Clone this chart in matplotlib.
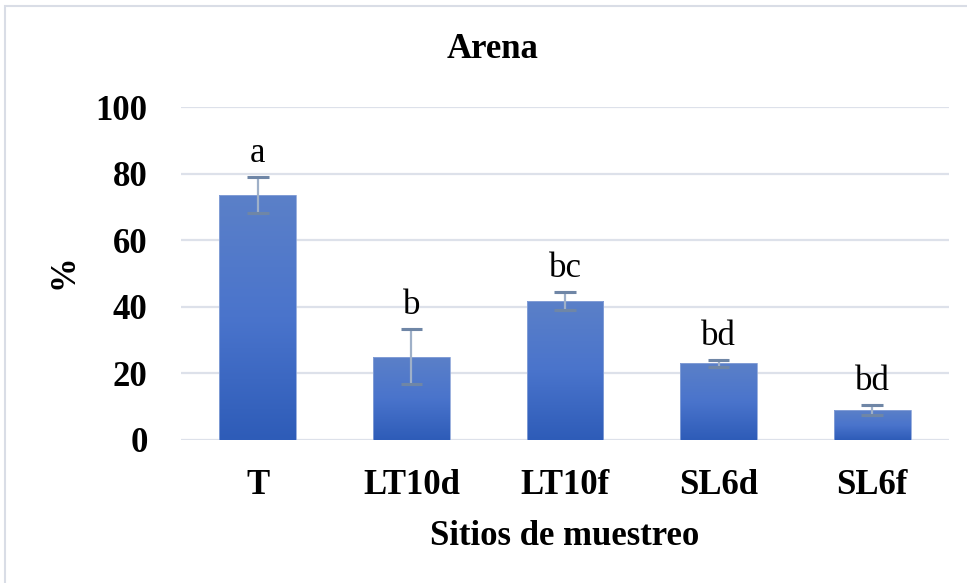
import numpy as np
import matplotlib
matplotlib.use("Agg")
import matplotlib.pyplot as plt
from matplotlib.patches import Rectangle

sites = ["T", "LT10d", "LT10f", "SL6d", "SL6f"]
sand_pct = [73.5, 25.0, 41.8, 23.0, 9.0]
sand_err = [5.4, 8.3, 2.7, 1.0, 1.5]
groups = ["a", "b", "bc", "bd", "bd"]
y_ticks = [0, 20, 40, 60, 80, 100]

plt.rcParams["font.family"] = ["Liberation Serif", "DejaVu Serif"]
FS = 25

W, H = 967, 583
fig = plt.figure(figsize=(W / 100, H / 100), dpi=100)
ax = fig.add_axes([181 / W, 1 - 440 / H, (949 - 181) / W, (440 - 107) / H])

# outer chart frame
fig.patches.append(Rectangle((5 / W, -0.1), 1.2, 1 - 6 / H + 0.1,
                             transform=fig.transFigure, fill=False,
                             edgecolor="#d9dde6", linewidth=1.5, zorder=0))

x = np.arange(len(sites))
bars = ax.bar(x, sand_pct, width=0.5, color="none", edgecolor="#8aa4d8",
              linewidth=0.6, zorder=3)

# vertical gradient fill for every bar
grad = np.linspace(0, 1, 256).reshape(-1, 1)
cmap = matplotlib.colors.LinearSegmentedColormap.from_list(
    "barfill", ["#2e5cb8", "#4a74cc", "#5b80c8"])
for b in bars:
    x0, y0 = b.get_x(), b.get_y()
    w, h = b.get_width(), b.get_height()
    im = ax.imshow(grad, cmap=cmap, aspect="auto", origin="lower",
                   extent=(x0, x0 + w, y0, y0 + h), zorder=2)
    im.set_clip_path(b)

ax.errorbar(x, sand_pct, yerr=sand_err, fmt="none", ecolor="#9fb0c8",
            elinewidth=1.6, capsize=5.5, capthick=2.2, zorder=4)
for i in range(len(sites)):
    for yy in (sand_pct[i] + sand_err[i], sand_pct[i] - sand_err[i]):
        ax.plot([x[i] - 0.07, x[i] + 0.07], [yy, yy], color="#6f86a6",
                linewidth=2.2, zorder=5, solid_capstyle="butt")

for i, g in enumerate(groups):
    ax.annotate(g, (x[i], sand_pct[i] + sand_err[i]), xytext=(0, 11),
                textcoords="offset points", ha="center", va="baseline",
                fontsize=FS, zorder=6)

ax.set_xlim(-0.5, len(sites) - 0.5)
ax.set_ylim(0, 100)
ax.set_yticks(y_ticks)
ax.set_xticks(x)
ax.set_xticklabels(sites, fontsize=FS, fontweight="bold")
ax.set_yticklabels([str(t) for t in y_ticks], fontsize=FS, fontweight="bold")
ax.tick_params(axis="both", length=0)
ax.tick_params(axis="y", pad=24)
ax.tick_params(axis="x", pad=21)
ax.grid(axis="y", color="#dde1ea", linewidth=1.6, zorder=0)
ax.set_axisbelow(True)
for s in ax.spines.values():
    s.set_visible(False)

fig.text(493 / W, 1 - 50 / H, "Arena", fontsize=FS, fontweight="bold",
         ha="center", va="center")
ax.set_ylabel("%", fontsize=FS, fontweight="bold")
ax.yaxis.set_label_coords((81 - 181) / 768, (440 - 272) / 333)
ax.set_xlabel("Sitios de muestreo", fontsize=FS, fontweight="bold", labelpad=13)

fig.savefig("out.png", dpi=100)
